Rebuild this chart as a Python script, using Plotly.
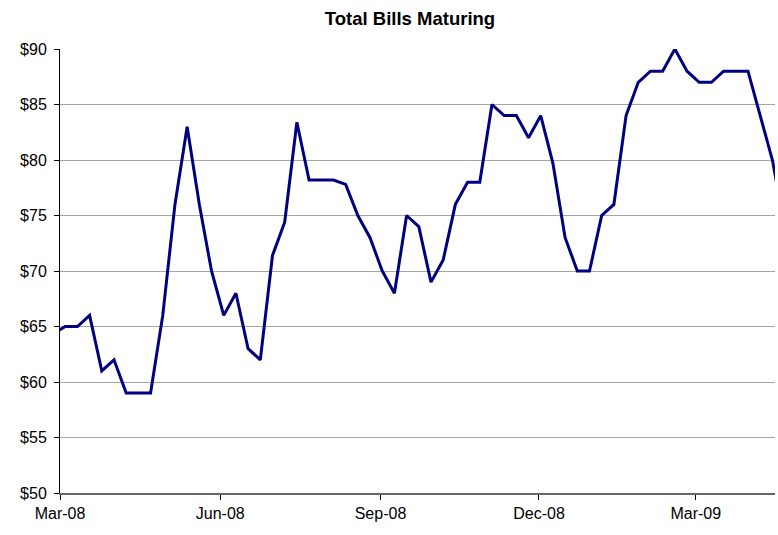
import pandas as pd
import plotly.graph_objects as go

# weekly observations (Tuesdays), value in $ billions
dates = pd.date_range("2008-02-26", periods=61, freq="7D")
bills = [
    64.3, 65, 65, 66, 61, 62, 59, 59, 59, 66,
    76, 83, 76, 70, 66, 68, 63, 62, 71.4, 74.4,
    83.4, 78.2, 78.2, 78.2, 77.8, 75, 73, 70, 68, 75,
    74, 69, 71, 76, 78, 78, 85, 84, 84, 82,
    84, 79.7, 73, 70, 70, 75, 76, 84, 87, 88,
    88, 90, 88, 87, 87, 88, 88, 88, 84, 80,
    74,
]

tick_dates = ["2008-03-01", "2008-06-01", "2008-09-01", "2008-12-01", "2009-03-01"]
tick_labels = ["Mar-08", "Jun-08", "Sep-08", "Dec-08", "Mar-09"]
y_ticks = [50, 55, 60, 65, 70, 75, 80, 85, 90]

fig = go.Figure()
fig.add_trace(go.Scatter(x=dates, y=bills, mode="lines",
                         line=dict(color="#000080", width=3)))

fig.update_layout(
    title=dict(text="<b>Total Bills Maturing</b>", x=0.527, xanchor="center",
               y=0.965, yanchor="middle",
               font=dict(family="Liberation Sans, Arial", size=18.5, color="black")),
    width=778,
    height=535,
    margin=dict(l=60, r=3, t=49, b=42),
    paper_bgcolor="white",
    plot_bgcolor="white",
    showlegend=False,
    hovermode=False,
    font=dict(family="Liberation Sans, Arial", size=16, color="black"),
)

fig.update_xaxes(
    range=["2008-03-01", "2009-04-15 12:00"],
    tickmode="array", tickvals=tick_dates, ticktext=tick_labels,
    ticks="outside", ticklen=5, tickcolor="black",
    showgrid=False, zeroline=False,
    showline=True, linecolor="#666666", linewidth=2,
    tickfont=dict(size=16), automargin=False,
)
fig.update_yaxes(
    range=[50, 90],
    tickmode="array", tickvals=y_ticks,
    ticktext=["$" + str(v) for v in y_ticks],
    ticks="outside", ticklen=5, tickcolor="black",
    showgrid=True, gridcolor="#a6a6a6", gridwidth=1,
    zeroline=False,
    showline=True, linecolor="black", linewidth=1,
    tickfont=dict(size=16), ticklabelstandoff=4, automargin=False,
)

# drop the default page margin so the figure fills the window
fig.write_html("out.html", config={"displayModeBar": False},
               post_script="document.body.style.margin='0';document.body.style.overflow='hidden';")
